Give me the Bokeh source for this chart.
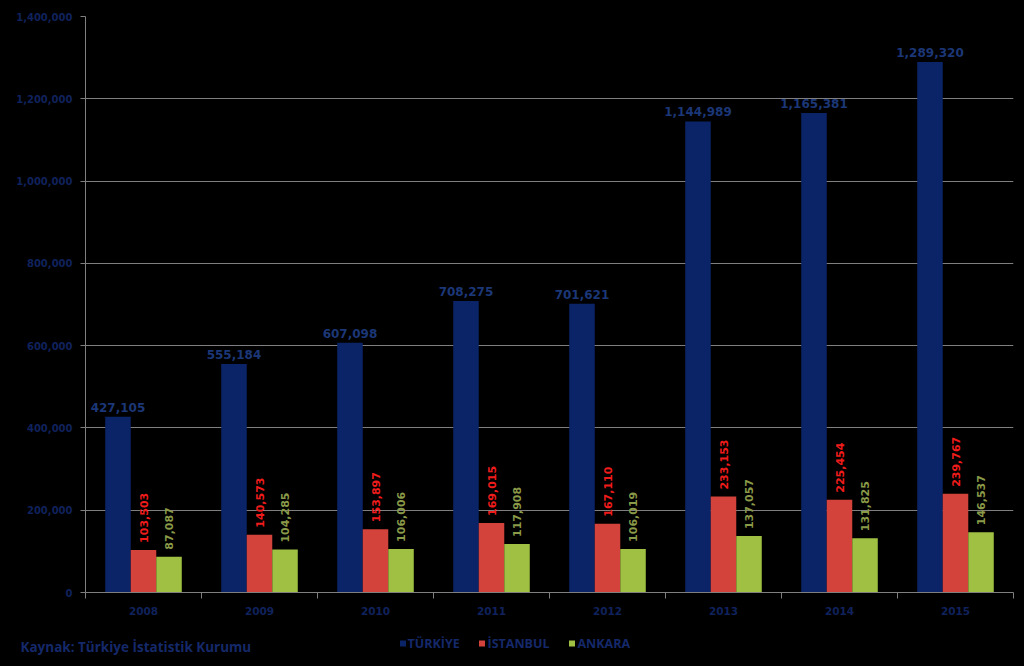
import math
from bokeh.plotting import figure
from bokeh.models import (ColumnDataSource, Range1d, FixedTicker, SingleIntervalTicker,
                          NumeralTickFormatter)
from bokeh.core.properties import value
from bokeh.embed import file_html
from bokeh.resources import INLINE

years = ["2008", "2009", "2010", "2011", "2012", "2013", "2014", "2015"]
turkiye = [427105, 555184, 607098, 708275, 701621, 1144989, 1165381, 1289320]
istanbul = [103503, 140573, 153897, 169015, 167110, 233153, 225454, 239767]
ankara = [87087, 104285, 106006, 117908, 106019, 137057, 131825, 146537]
series_names = ["TÜRKİYE", "İSTANBUL", "ANKARA"]
source_text = "Kaynak: Türkiye İstatistik Kurumu"

bar_colors = ["#0b2468", "#d4423c", "#9fc043"]
label_colors = ["#1c3777", "#f01c1c", "#8a9a48"]
text_navy = "#15296a"
tick_navy = "#10225c"
grid_gray = "#7f7f7f"

idx = list(range(1, len(years) + 1))
bw = 0.22
offsets = [-bw, 0.0, bw]

p = figure(width=1024, height=630, output_backend="svg", toolbar_location=None,
           x_range=Range1d(0.5, len(years) + 0.5), y_range=Range1d(0, 1400000),
           min_border_left=85, min_border_right=11, min_border_top=16, min_border_bottom=38)
p.background_fill_color = "black"
p.border_fill_color = "black"
p.outline_line_color = None

for vals, off, col in zip([turkiye, istanbul, ankara], offsets, bar_colors):
    src = ColumnDataSource(dict(x=[i + off for i in idx], top=vals))
    p.vbar(x="x", top="top", width=bw, source=src, fill_color=col, line_color=None)

def fmt(v):
    return f"{v:,}"

# Türkiye labels (horizontal, above bars)
src_t = ColumnDataSource(dict(x=[i + offsets[0] for i in idx], y=turkiye, t=[fmt(v) for v in turkiye]))
p.text(x="x", y="y", text="t", source=src_t, text_align="center", text_baseline="bottom",
       y_offset=-5, text_color=label_colors[0], text_font=value("DejaVu Sans"),
       text_font_style="bold", text_font_size="12px")

for vals, off, col in [(istanbul, offsets[1], label_colors[1]), (ankara, offsets[2], label_colors[2])]:
    s = ColumnDataSource(dict(x=[i + off for i in idx], y=vals, t=[fmt(v) for v in vals]))
    p.text(x="x", y="y", text="t", source=s, angle=math.pi / 2, text_align="left",
           text_baseline="middle", y_offset=-7, text_color=col,
           text_font=value("DejaVu Sans"), text_font_style="bold", text_font_size="11px")

# axes
p.xgrid.grid_line_color = None
p.ygrid.grid_line_color = grid_gray
p.ygrid.grid_line_width = 1
p.yaxis.ticker = SingleIntervalTicker(interval=200000, num_minor_ticks=0)
p.yaxis.formatter = NumeralTickFormatter(format="0,0")
p.yaxis.axis_line_color = grid_gray
p.yaxis.major_tick_line_color = grid_gray
p.yaxis.major_tick_out = 5
p.yaxis.major_tick_in = 0
p.yaxis.minor_tick_line_color = None
p.yaxis.major_label_standoff = 8
p.yaxis.major_label_text_color = tick_navy
p.yaxis.major_label_text_font = "DejaVu Sans"
p.yaxis.major_label_text_font_style = "bold"
p.yaxis.major_label_text_font_size = "10px"

p.xaxis.ticker = FixedTicker(ticks=idx, minor_ticks=[i - 0.5 for i in idx] + [len(years) + 0.5])
p.xaxis.major_label_overrides = {i: y for i, y in zip(idx, years)}
p.xaxis.axis_line_color = grid_gray
p.xaxis.major_tick_out = 0
p.xaxis.major_tick_in = 0
p.xaxis.minor_tick_out = 6
p.xaxis.minor_tick_in = 0
p.xaxis.minor_tick_line_color = grid_gray
p.xaxis.major_label_standoff = 8
p.xaxis.major_label_text_color = tick_navy
p.xaxis.major_label_text_font = "DejaVu Sans"
p.xaxis.major_label_text_font_style = "bold"
p.xaxis.major_label_text_font_size = "10.5px"

# footer strip: source note and legend (separate root, so no frame alignment)
p2 = figure(width=1024, height=36, output_backend="svg", toolbar_location=None,
            x_range=Range1d(0, 1024), y_range=Range1d(0, 36),
            min_border=0, min_border_left=0, min_border_right=0, min_border_top=0, min_border_bottom=0)
p2.background_fill_color = "black"
p2.border_fill_color = "black"
p2.outline_line_color = None
p2.axis.visible = False
p2.grid.visible = False

p2.text(x=[20], y=[20], text=[source_text], text_align="left", text_baseline="middle",
        text_color=text_navy, text_font=value("Open Sans"), text_font_style="bold",
        text_font_size="13.5px")

leg_sq_x = [402.5, 481.5, 571.5]
leg_tx_x = [407, 487, 577]
p2.scatter(x=leg_sq_x, y=[23] * 3, marker="square", size=6, fill_color=bar_colors,
           line_color=None)
p2.text(x=leg_tx_x, y=[23] * 3, text=series_names, text_align="left", text_baseline="middle",
        text_color=text_navy, text_font=value("Open Sans"), text_font_style="bold",
        text_font_size="12.5px")

html = file_html([p, p2], INLINE)
html = html.replace("<head>", "<head><style>html,body{background:#000;}</style>", 1)
open("out.html", "w").write(html)
